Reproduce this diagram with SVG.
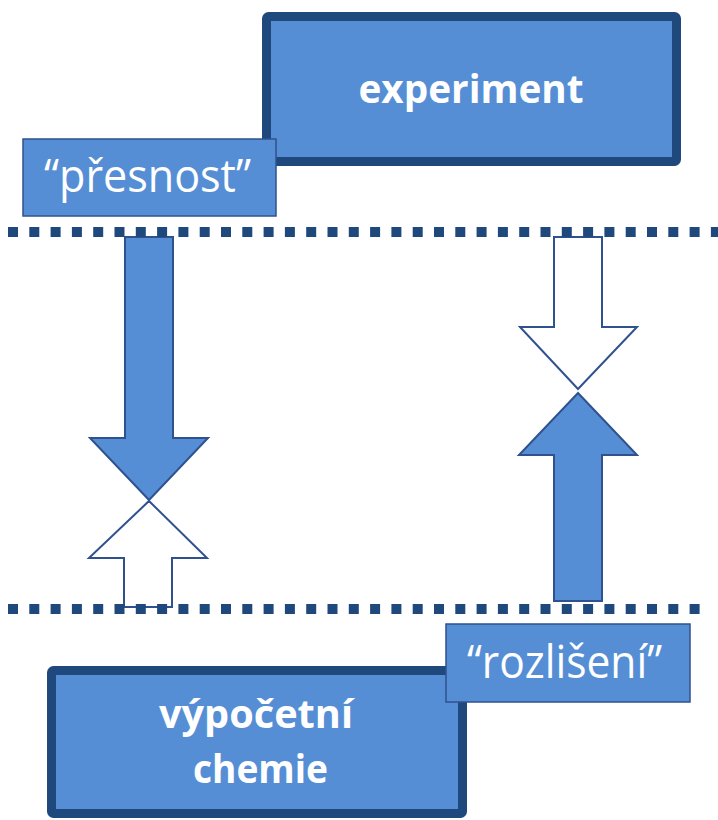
<svg xmlns="http://www.w3.org/2000/svg" width="718" height="820" viewBox="0 0 718 820">
<style>
.main{fill:#558ED5;stroke:#1F497D;stroke-width:9;stroke-linejoin:round}
.lbl{fill:#558ED5;stroke:#2F528F;stroke-width:1.5}
.bt{font-family:"Open Sans","Noto Sans",sans-serif;font-weight:bold;font-size:40px;fill:#fff}
.rt{font-family:"Open Sans","Noto Sans",sans-serif;font-size:45px;fill:#fff}
.af{fill:#558ED5;stroke:#2F528F;stroke-width:2;stroke-linejoin:miter}
.aw{fill:#fff;stroke:#2F528F;stroke-width:2;stroke-linejoin:miter}
.dot{stroke:#1F497D;stroke-width:10;stroke-dasharray:10 11.3;fill:none}
</style>
<g id="experiment">
<rect class="main" x="266.5" y="16.5" width="410" height="145" rx="2"/>
<text class="bt" x="471" y="103" text-anchor="middle" textLength="225" lengthAdjust="spacingAndGlyphs">experiment</text>
</g>
<g id="presnost">
<rect class="lbl" x="23" y="139" width="253" height="77"/>
<text class="rt" x="44" y="192" textLength="207" lengthAdjust="spacingAndGlyphs">“přesnost”</text>
</g>
<g id="connectors">
<polygon class="af" points="125,237 173,237 173,438 208,438 149,500 90,438 125,438"/>
<polygon class="aw" points="149,501 207,558 172,558 172,607 124,607 124,558 89,558"/>
<polygon class="aw" points="554,237 602,237 602,327 637,327 578,389 520,327 554,327"/>
<polygon class="af" points="578,393 637,455 602,455 602,601 554,601 554,455 519,455"/>
<line class="dot" x1="8" y1="232" x2="718" y2="232"/>
<line class="dot" x1="8" y1="609" x2="703" y2="609"/>
</g>
<g id="vypocetni">
<rect class="main" x="51.5" y="670.5" width="411" height="143" rx="2"/>
<text class="bt" x="256" y="728" text-anchor="middle" textLength="194" lengthAdjust="spacingAndGlyphs">výpočetní</text>
<text class="bt" x="260.5" y="783" text-anchor="middle" textLength="135" lengthAdjust="spacingAndGlyphs">chemie</text>
</g>
<g id="rozliseni">
<rect class="lbl" x="446" y="624" width="244" height="78"/>
<text class="rt" x="467" y="678" textLength="195" lengthAdjust="spacingAndGlyphs">“rozlišení”</text>
</g>
</svg>
